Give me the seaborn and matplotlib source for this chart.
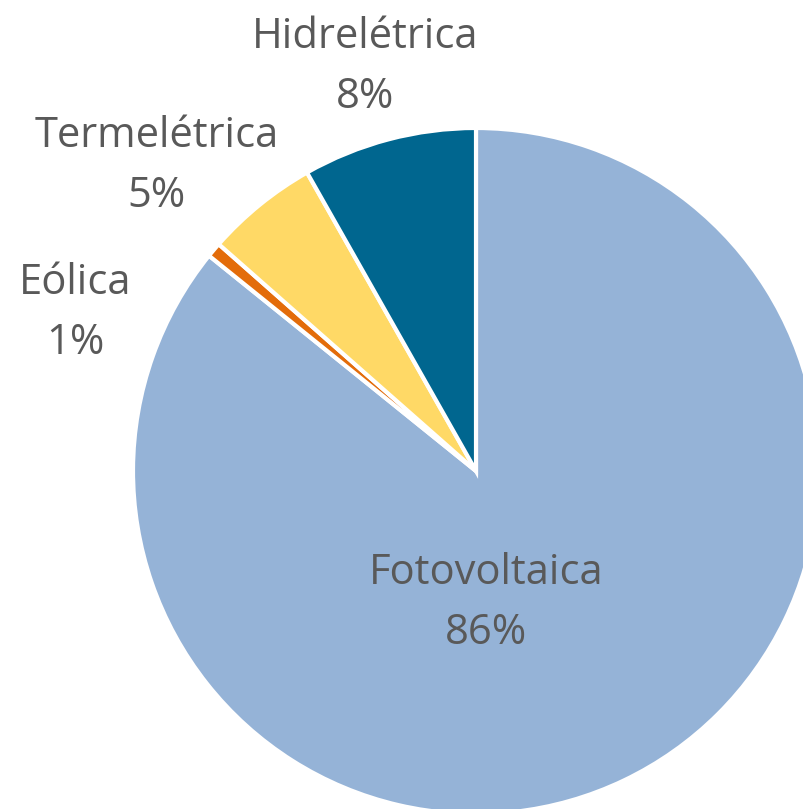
import matplotlib
matplotlib.use('Agg')
import matplotlib.pyplot as plt
import seaborn as sns

sources = ['Fotovoltaica', 'Eólica', 'Termelétrica', 'Hidrelétrica']
shares = [85.8, 0.7, 5.3, 8.2]
colors = ['#95B3D7', '#E36C0A', '#FFD966', '#00668F']
# label centres in pixels (x, y from top)
label_px = [(486, 603), (75, 313), (157, 166), (365, 67)]

sns.set_theme(style='white')
plt.rcParams['font.family'] = ['Open Sans', 'DejaVu Sans']

W, H = 804, 809
cx, cy, r = 476, 471, 343

fig = plt.figure(figsize=(W / 100, H / 100), dpi=100)
ax = fig.add_axes([0, 0, 1, 1])

wedges, texts = ax.pie(shares, colors=colors, startangle=90, counterclock=False,
                       radius=1, labels=['%s\n%d%%' % (s, round(v)) for s, v in zip(sources, shares)],
                       wedgeprops=dict(edgecolor='white', linewidth=3),
                       textprops=dict(color='#595959', fontsize=30, ha='center', va='center',
                                      linespacing=1.55))

for t, (px, py) in zip(texts, label_px):
    t.set_position(((px - cx) / r, (cy - py) / r))
    t.set_ha('center')
    t.set_va('center')

ax.set_xlim(-cx / r, (W - cx) / r)
ax.set_ylim(-(H - cy) / r, cy / r)
ax.set_aspect('equal')
ax.axis('off')

fig.savefig('out.png', dpi=100)
